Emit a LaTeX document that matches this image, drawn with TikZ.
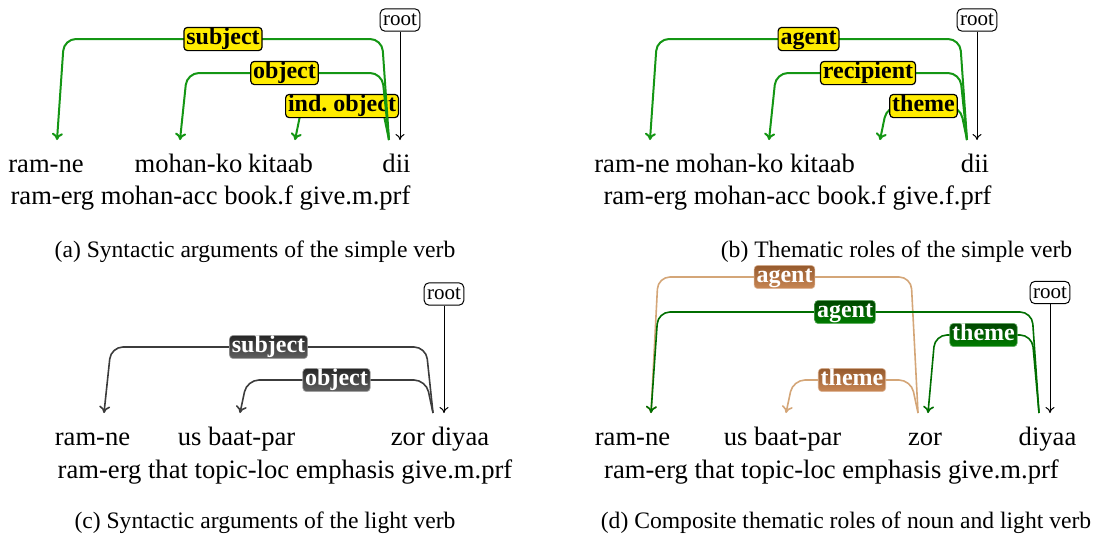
\documentclass[tikz,border=0pt]{standalone}
\usepackage{fontspec}
\setmainfont{Liberation Serif}
\usetikzlibrary{arrows.meta,calc}
\definecolor{arcgreen}{RGB}{20,150,20}
\definecolor{labyellow}{RGB}{255,236,0}
\definecolor{arcgray}{RGB}{60,60,60}
\definecolor{arctan}{RGB}{212,166,120}
\definecolor{tantop}{RGB}{150,90,45}
\definecolor{tanbot}{RGB}{200,135,85}
\definecolor{arcdkgreen}{RGB}{0,110,0}
\definecolor{greentop}{RGB}{0,70,0}
\definecolor{greenbot}{RGB}{0,125,0}
\begin{document}
\begin{tikzpicture}[x=0.5pt,y=-0.5pt,
  word/.style={anchor=base,inner sep=0pt,text height=9.5pt,text depth=0pt,
    outer ysep=6.5pt,font=\fontsize{13.3}{16}\selectfont},
  gloss/.style={anchor=base,inner sep=0pt,font=\fontsize{13.3}{16}\selectfont},
  caption/.style={anchor=base,inner sep=0pt,font=\fontsize{11.8}{14}\selectfont},
  rootbox/.style={draw,fill=white,rounded corners=2.5pt,line width=0.5pt,
    inner xsep=1.5pt,inner ysep=1.2pt,text height=7.2pt,text depth=1.6pt,
    font=\fontsize{10.5}{12}\selectfont},
  rootarrow/.style={draw=black,line width=0.5pt,-{To[length=3pt,width=4.5pt]}},
  deplab/.style={rounded corners=1.8pt,inner xsep=1.2pt,inner ysep=0.6pt,
    text height=7.8pt,text depth=2.6pt,font=\fontsize{12}{14}\selectfont\bfseries},
  garc/.style={draw=arcgreen,line width=1pt,rounded corners=6pt,
    -{To[length=3.5pt,width=5.5pt]}},
  ylab/.style={deplab,fill=labyellow,draw=black,line width=0.6pt,text=black},
  karc/.style={draw=arcgray,line width=0.8pt,rounded corners=6pt,
    -{To[length=3.5pt,width=5.5pt]}},
  klab/.style={deplab,top color=black!85,bottom color=black!62,
    draw=black!35,line width=0.3pt,text=white},
  tarc/.style={draw=arctan,line width=0.8pt,rounded corners=6pt,
    -{To[length=3.5pt,width=5.5pt]}},
  tlab/.style={deplab,top color=tantop,bottom color=tanbot,
    draw=tanbot!60!white,line width=0.3pt,text=white},
  narc/.style={draw=arcdkgreen,line width=0.8pt,rounded corners=6pt,
    -{To[length=3.5pt,width=5.5pt]}},
  nlab/.style={deplab,top color=greentop,bottom color=greenbot,
    draw=greenbot!60!white,line width=0.3pt,text=white}]
\useasboundingbox (0,0) rectangle (1096,537);

% (a)
\node[rootbox] (aRoot) at (400,20) {root};
\node[word] (aRamne) at (46,172) {ram-ne};
\node[word] (aMohan) at (188.5,172) {mohan-ko};
\node[word] (aKitaab) at (280.5,172) {kitaab};
\node[word] (aDii) at (396.5,172) {dii};
\node[gloss] (aGloss) at (210.5,204) {ram-erg mohan-acc book.f give.m.prf};
\node[caption] (aCap) at (255,257) {(a) Syntactic arguments of the simple verb};
\draw[garc] ($(aDii.north)+(-7.5,0)$) -- (382,106) -- node[ylab] {ind.\ object} (302,106) -- ($(aKitaab.north)+(14.5,0)$);
\draw[garc] ($(aDii.north)+(-7.5,0)$) -- (382,73) -- node[ylab] {object} (187,73) -- ($(aMohan.north)+(-8.5,0)$);
\draw[garc] ($(aDii.north)+(-7.5,0)$) -- (382,39) -- node[ylab] {subject} (64,39) -- ($(aRamne.north)+(11,0)$);
\draw[rootarrow] (aRoot) -- (aRoot |- aDii.north);

% (b)
\node[rootbox] (bRoot) at (977,20) {root};
\node[word] (bRamne) at (632,172) {ram-ne};
\node[word] (bMohan) at (729.5,172) {mohan-ko};
\node[word] (bKitaab) at (822.5,172) {kitaab};
\node[word] (bDii) at (975,172) {dii};
\node[gloss] (bGloss) at (797.5,204) {ram-erg mohan-acc book.f give.f.prf};
\node[caption] (bCap) at (896.5,257) {(b) Thematic roles of the simple verb};
\draw[garc] ($(bDii.north)+(-8,0)$) -- (960,106) -- node[ylab] {theme} (887,106) -- ($(bKitaab.north)+(57.5,0)$);
\draw[garc] ($(bDii.north)+(-8,0)$) -- (960,73) -- node[ylab] {recipient} (776,73) -- ($(bMohan.north)+(39.5,0)$);
\draw[garc] ($(bDii.north)+(-8,0)$) -- (960,39) -- node[ylab] {agent} (657,39) -- ($(bRamne.north)+(18,0)$);
\draw[rootarrow] (bRoot) -- (bRoot |- bDii.north);

% (c)
\node[rootbox] (cRoot) at (444,294) {root};
\node[word] (cRamne) at (92.5,445) {ram-ne};
\node[word] (cUs) at (236.5,445) {us baat-par};
\node[word] (cZor) at (440,445) {zor diyaa};
\node[gloss] (cGloss) at (285,478) {ram-erg that topic-loc emphasis give.m.prf};
\node[caption] (cCap) at (265,528) {(c) Syntactic arguments of the light verb};
\draw[karc] ($(cZor.north)+(-7,0)$) -- (426,380) -- node[klab] {object} (247,380) -- ($(cUs.north)+(3.5,0)$);
\draw[karc] ($(cZor.north)+(-7,0)$) -- (426,347) -- node[klab] {subject} (111,347) -- ($(cRamne.north)+(11.5,0)$);
\draw[rootarrow] (cRoot) -- (cRoot |- cZor.north);

% (d)
\node[rootbox] (dRoot) at (1050,292.5) {root};
\node[word] (dRamne) at (632.5,445) {ram-ne};
\node[word] (dUs) at (782.5,445) {us baat-par};
\node[word] (dZor) at (925,445) {zor};
\node[word] (dDiyaa) at (1047.5,445) {diyaa};
\node[gloss] (dGloss) at (831.5,478) {ram-erg that topic-loc emphasis give.m.prf};
\node[caption] (dCap) at (846,528) {(d) Composite thematic roles of noun and light verb};
\draw[tarc] ($(dZor.north)+(-7,0)$) -- (911,277) -- node[tlab] {agent} (658,277) -- ($(dRamne.north)+(18.5,0)$);
\draw[narc] ($(dDiyaa.north)+(-8.5,0)$) -- (1032,312) -- node[nlab] {agent} (658,312) -- ($(dRamne.north)+(18.5,0)$);
\draw[narc] ($(dDiyaa.north)+(-8.5,0)$) -- (1032,335) -- node[nlab] {theme} (935,335) -- ($(dZor.north)+(3,0)$);
\draw[tarc] ($(dZor.north)+(-7,0)$) -- (911,380) -- node[tlab] {theme} (793,380) -- ($(dUs.north)+(3.5,0)$);
\draw[rootarrow] (dRoot) -- (dRoot |- dDiyaa.north);
\end{tikzpicture}
\end{document}
